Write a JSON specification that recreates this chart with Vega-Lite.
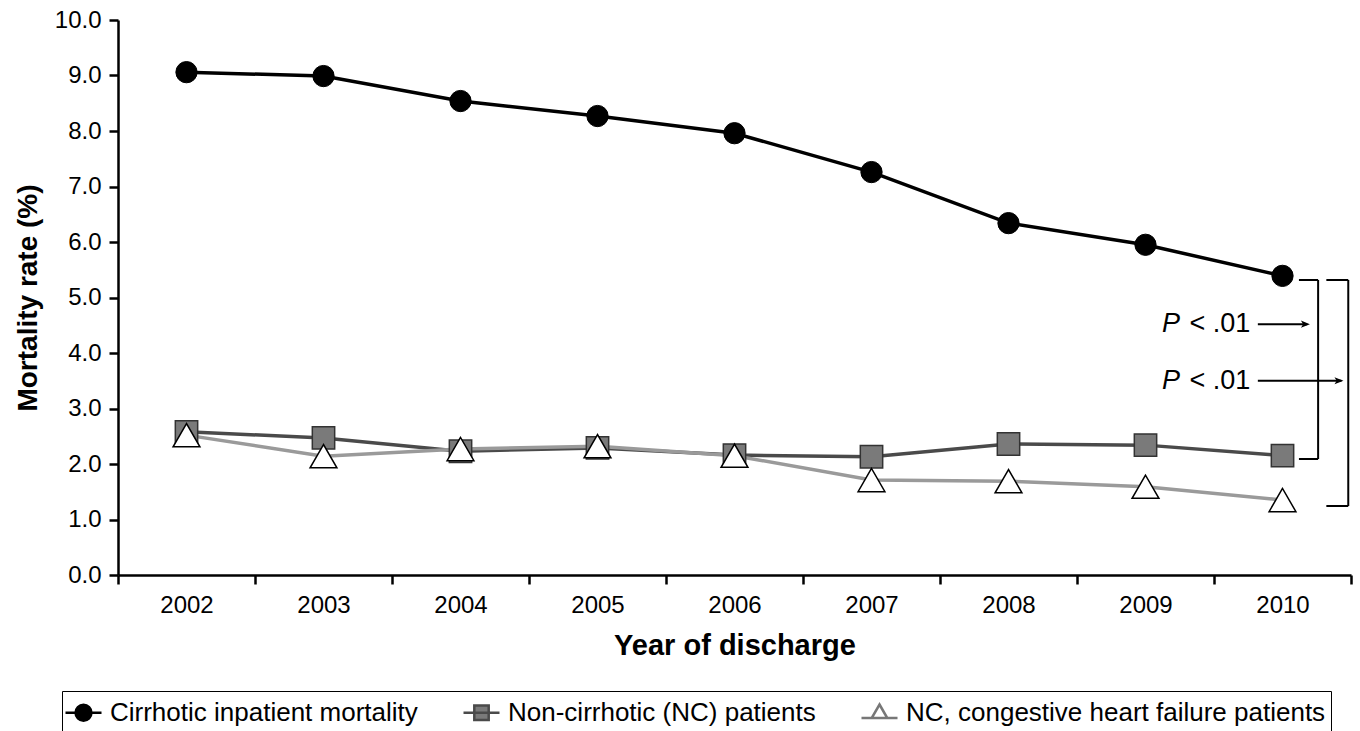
{
  "$schema": "https://vega.github.io/schema/vega-lite/v6.json",
  "width": 1233,
  "height": 555,
  "autosize": {"type": "none"},
  "padding": {"left": 118, "top": 20, "right": 9, "bottom": 156},
  "background": "white",
  "config": {
    "font": "Liberation Sans",
    "view": {"stroke": null},
    "axis": {
      "domainColor": "black",
      "domainWidth": 2.5,
      "tickColor": "black",
      "tickWidth": 2.5,
      "tickSize": 9,
      "labelColor": "black",
      "labelFontSize": 24,
      "titleColor": "black",
      "titleFontSize": 28,
      "titleFontWeight": "bold",
      "grid": false
    }
  },
  "datasets": {
    "rates": [
      {"year": 2002, "series": "Cirrhotic inpatient mortality", "rate": 9.06},
      {"year": 2003, "series": "Cirrhotic inpatient mortality", "rate": 8.99},
      {"year": 2004, "series": "Cirrhotic inpatient mortality", "rate": 8.54},
      {"year": 2005, "series": "Cirrhotic inpatient mortality", "rate": 8.27},
      {"year": 2006, "series": "Cirrhotic inpatient mortality", "rate": 7.96},
      {"year": 2007, "series": "Cirrhotic inpatient mortality", "rate": 7.26},
      {"year": 2008, "series": "Cirrhotic inpatient mortality", "rate": 6.34},
      {"year": 2009, "series": "Cirrhotic inpatient mortality", "rate": 5.95},
      {"year": 2010, "series": "Cirrhotic inpatient mortality", "rate": 5.39},
      {"year": 2002, "series": "Non-cirrhotic (NC) patients", "rate": 2.58},
      {"year": 2003, "series": "Non-cirrhotic (NC) patients", "rate": 2.47},
      {"year": 2004, "series": "Non-cirrhotic (NC) patients", "rate": 2.23},
      {"year": 2005, "series": "Non-cirrhotic (NC) patients", "rate": 2.29},
      {"year": 2006, "series": "Non-cirrhotic (NC) patients", "rate": 2.16},
      {"year": 2007, "series": "Non-cirrhotic (NC) patients", "rate": 2.13},
      {"year": 2008, "series": "Non-cirrhotic (NC) patients", "rate": 2.36},
      {"year": 2009, "series": "Non-cirrhotic (NC) patients", "rate": 2.34},
      {"year": 2010, "series": "Non-cirrhotic (NC) patients", "rate": 2.15},
      {"year": 2002, "series": "NC, congestive heart failure patients", "rate": 2.52},
      {"year": 2003, "series": "NC, congestive heart failure patients", "rate": 2.14},
      {"year": 2004, "series": "NC, congestive heart failure patients", "rate": 2.27},
      {"year": 2005, "series": "NC, congestive heart failure patients", "rate": 2.32},
      {"year": 2006, "series": "NC, congestive heart failure patients", "rate": 2.15},
      {"year": 2007, "series": "NC, congestive heart failure patients", "rate": 1.71},
      {"year": 2008, "series": "NC, congestive heart failure patients", "rate": 1.69},
      {"year": 2009, "series": "NC, congestive heart failure patients", "rate": 1.59},
      {"year": 2010, "series": "NC, congestive heart failure patients", "rate": 1.35}
    ],
    "segments": [
      {"x": 2010.12, "x2": 2010.26, "y": 5.315, "y2": 5.315},
      {"x": 2010.26, "x2": 2010.26, "y": 5.315, "y2": 2.09},
      {"x": 2010.12, "x2": 2010.26, "y": 2.09, "y2": 2.09},
      {"x": 2010.32, "x2": 2010.48, "y": 5.315, "y2": 5.315},
      {"x": 2010.48, "x2": 2010.48, "y": 5.315, "y2": 1.243},
      {"x": 2010.32, "x2": 2010.48, "y": 1.243, "y2": 1.243},
      {"x": 2009.82, "x2": 2010.18, "y": 4.52, "y2": 4.52},
      {"x": 2009.82, "x2": 2010.43, "y": 3.5, "y2": 3.5}
    ],
    "tips": [
      {"x": 2010.2, "y": 4.52},
      {"x": 2010.445, "y": 3.5}
    ],
    "notes": [
      {"xl": 2009.12, "xr": 2009.765, "y": 4.52, "p": "P", "rest": "< .01"},
      {"xl": 2009.12, "xr": 2009.765, "y": 3.5, "p": "P", "rest": "< .01"}
    ]
  },
  "layer": [
    {
      "data": {"name": "rates"},
      "mark": {"type": "point", "filled": true, "size": 900, "strokeWidth": 2.5, "opacity": 0},
      "encoding": {
        "x": {
          "field": "year",
          "type": "quantitative",
          "scale": {"domain": [2001.5, 2010.5], "nice": false, "zero": false},
          "axis": {
            "title": "Year of discharge",
            "values": [2001.5, 2002, 2002.5, 2003, 2003.5, 2004, 2004.5, 2005, 2005.5, 2006, 2006.5, 2007, 2007.5, 2008, 2008.5, 2009, 2009.5, 2010, 2010.5],
            "labelExpr": "datum.value % 1 === 0 ? '' + datum.value : ''",
            "tickOpacity": {"condition": {"test": "datum.value % 1 === 0", "value": 0}, "value": 1},
            "labelOverlap": false,
            "labelFlush": false,
            "labelPadding": 9,
            "titlePadding": 14,
            "titleFontSize": 29
          }
        },
        "y": {
          "field": "rate",
          "type": "quantitative",
          "scale": {"domain": [0, 10], "nice": false},
          "axis": {
            "title": "Mortality rate (%)",
            "values": [0, 1, 2, 3, 4, 5, 6, 7, 8, 9, 10],
            "format": ".1f",
            "labelPadding": 8,
            "titlePadding": 12
          }
        },
        "shape": {
          "field": "series",
          "type": "nominal",
          "scale": {
            "domain": ["Cirrhotic inpatient mortality", "Non-cirrhotic (NC) patients", "NC, congestive heart failure patients"],
            "range": [
              "M-1.2,0H1.2M0.53,0A0.53,0.53 0 1,1 -0.53,0A0.53,0.53 0 1,1 0.53,0Z",
              "M-1.2,0H1.2M-0.48,-0.48H0.48V0.48H-0.48Z",
              "M-1.2,0.35H1.2M0,-0.55L0.52,0.35H-0.52Z"
            ]
          },
          "legend": {
            "title": null,
            "orient": "none",
            "direction": "horizontal",
            "legendX": -56,
            "legendY": 671,
            "strokeColor": "#000000",
            "padding": 5,
            "columnPadding": 40,
            "labelFontSize": 26,
            "labelLimit": 0,
            "labelColor": "#000000",
            "labelOffset": 10,
            "symbolSize": 900,
            "symbolStrokeWidth": 2.5,
            "symbolOpacity": 1
          }
        },
        "fill": {
          "field": "series",
          "type": "nominal",
          "scale": {
            "domain": ["Cirrhotic inpatient mortality", "Non-cirrhotic (NC) patients", "NC, congestive heart failure patients"],
            "range": ["#000000", "#7a7a7a", "#ffffff"]
          }
        },
        "stroke": {
          "field": "series",
          "type": "nominal",
          "scale": {
            "domain": ["Cirrhotic inpatient mortality", "Non-cirrhotic (NC) patients", "NC, congestive heart failure patients"],
            "range": ["#000000", "#4a4a4a", "#777777"]
          }
        }
      }
    },
    {
      "data": {"name": "rates"},
      "mark": {"type": "line", "strokeWidth": 3.5},
      "encoding": {
        "x": {"field": "year", "type": "quantitative"},
        "y": {"field": "rate", "type": "quantitative"},
        "color": {
          "field": "series",
          "type": "nominal",
          "scale": {
            "domain": ["Cirrhotic inpatient mortality", "Non-cirrhotic (NC) patients", "NC, congestive heart failure patients"],
            "range": ["#000000", "#4a4a4a", "#9a9a9a"]
          },
          "legend": null
        }
      }
    },
    {
      "data": {"name": "rates"},
      "transform": [{"filter": "datum.series === 'Cirrhotic inpatient mortality'"}],
      "mark": {"type": "point", "shape": "circle", "filled": true, "fill": "#000000", "stroke": "#000000", "strokeWidth": 1, "size": 452, "opacity": 1},
      "encoding": {
        "x": {"field": "year", "type": "quantitative"},
        "y": {"field": "rate", "type": "quantitative"}
      }
    },
    {
      "data": {"name": "rates"},
      "transform": [{"filter": "datum.series === 'Non-cirrhotic (NC) patients'"}],
      "mark": {"type": "point", "shape": "square", "filled": true, "fill": "#7a7a7a", "stroke": "#333333", "strokeWidth": 1.5, "size": 500, "opacity": 1},
      "encoding": {
        "x": {"field": "year", "type": "quantitative"},
        "y": {"field": "rate", "type": "quantitative"}
      }
    },
    {
      "data": {"name": "rates"},
      "transform": [{"filter": "datum.series === 'NC, congestive heart failure patients'"}],
      "mark": {"type": "point", "shape": "triangle-up", "filled": true, "fill": "#ffffff", "stroke": "#000000", "strokeWidth": 1.5, "size": 720, "opacity": 1},
      "encoding": {
        "x": {"field": "year", "type": "quantitative"},
        "y": {"field": "rate", "type": "quantitative"}
      }
    },
    {
      "data": {"name": "segments"},
      "mark": {"type": "rule", "strokeWidth": 2, "color": "#000000"},
      "encoding": {
        "x": {"field": "x", "type": "quantitative"},
        "x2": {"field": "x2"},
        "y": {"field": "y", "type": "quantitative"},
        "y2": {"field": "y2"}
      }
    },
    {
      "data": {"name": "tips"},
      "mark": {"type": "point", "shape": "M0,0L-1,-0.4L-0.75,0L-1,0.4Z", "filled": true, "fill": "#000000", "strokeWidth": 0, "size": 324, "opacity": 1},
      "encoding": {
        "x": {"field": "x", "type": "quantitative"},
        "y": {"field": "y", "type": "quantitative"}
      }
    },
    {
      "data": {"name": "notes"},
      "mark": {"type": "text", "align": "left", "baseline": "middle", "fontSize": 27, "fontStyle": "italic", "color": "#000000"},
      "encoding": {
        "x": {"field": "xl", "type": "quantitative"},
        "y": {"field": "y", "type": "quantitative"},
        "text": {"field": "p"}
      }
    },
    {
      "data": {"name": "notes"},
      "mark": {"type": "text", "align": "right", "baseline": "middle", "fontSize": 27, "color": "#000000"},
      "encoding": {
        "x": {"field": "xr", "type": "quantitative"},
        "y": {"field": "y", "type": "quantitative"},
        "text": {"field": "rest"}
      }
    }
  ]
}
